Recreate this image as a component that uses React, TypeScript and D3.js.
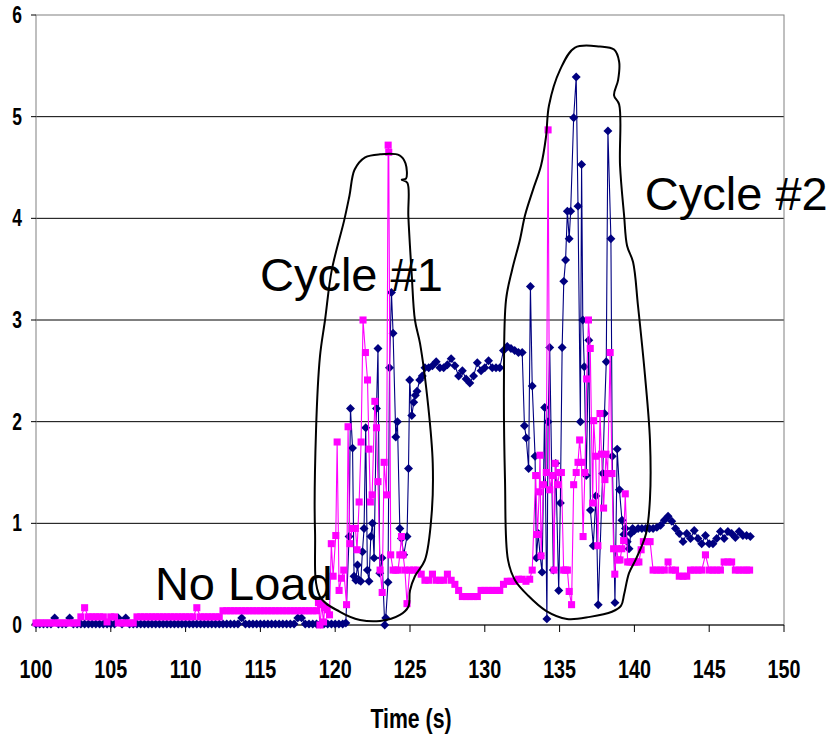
import React from 'react';
import * as d3 from 'd3';

// Sampled readings (time in seconds, value in the chart's units)
const navyTime = [
  100, 100.25, 100.5, 100.75, 101, 101.25, 101.5, 101.75, 102, 102.25, 102.5, 102.75,
  103, 103.25, 103.5, 103.75, 104, 104.25, 104.5, 104.75, 105, 105.25, 105.5, 105.75,
  106, 106.25, 106.5, 106.75, 107, 107.25, 107.5, 107.75, 108, 108.25, 108.5, 108.75,
  109, 109.25, 109.5, 109.75, 110, 110.25, 110.5, 110.75, 111, 111.25, 111.5, 111.75,
  112, 112.25, 112.5, 112.75, 113, 113.25, 113.5, 113.75, 114, 114.25, 114.5, 114.75,
  115, 115.25, 115.5, 115.75, 116, 116.25, 116.5, 116.75, 117, 117.25, 117.5, 117.75,
  118, 118.25, 118.5, 118.75, 119, 119.25, 119.5, 119.75, 120, 120.25, 120.5,
  120.71, 120.93, 121.02, 121.16, 121.26, 121.38, 121.49, 121.6, 121.71, 121.82, 121.93,
  122.04, 122.15, 122.26, 122.38, 122.49, 122.6, 122.76, 122.86, 122.98, 123.13, 123.31,
  123.38, 123.53, 123.63, 123.76, 123.87, 124.05, 124.16, 124.32, 124.43, 124.58, 124.8,
  124.9, 124.98, 125.12, 125.25, 125.36, 125.47, 125.65, 125.82,
  126, 126.25, 126.5, 126.75, 127, 127.25, 127.5, 127.75, 128, 128.25, 128.5, 128.75,
  129, 129.25, 129.5, 129.75, 130, 130.25, 130.5, 130.75, 131, 131.25, 131.5, 131.75,
  132, 132.25, 132.5,
  132.65, 132.77, 132.93, 133.05, 133.17, 133.36, 133.45, 133.57, 133.7, 133.83, 134,
  134.15, 134.23, 134.34, 134.58, 134.74, 134.94, 135.05, 135.17, 135.28, 135.4, 135.52,
  135.64, 135.74, 135.94, 136.11, 136.23, 136.39, 136.47, 136.55, 136.65, 136.78, 136.95,
  137.06, 137.25, 137.43, 137.58, 137.88, 138, 138.12, 138.23, 138.43, 138.52, 138.7,
  138.85, 139, 139.17, 139.29, 139.4, 139.52, 139.64, 139.76, 139.88,
  140, 140.25, 140.5, 140.75, 141, 141.25, 141.5, 141.75, 142, 142.25, 142.5, 142.75,
  143, 143.25, 143.5, 143.75, 144, 144.25, 144.5, 144.75, 145, 145.25, 145.5, 145.75,
  146, 146.25, 146.5, 146.75, 147, 147.25, 147.5, 147.75,
];
const navyValue = [
  0.01, 0.01, 0.01, 0.01, 0.01, 0.07, 0.01, 0.01, 0.01, 0.07, 0.01, 0.01,
  0.01, 0.01, 0.01, 0.01, 0.01, 0.01, 0.01, 0.01, 0.01, 0.01, 0.07, 0.01,
  0.07, 0.01, 0.01, 0.01, 0.01, 0.01, 0.01, 0.01, 0.01, 0.01, 0.01, 0.01,
  0.01, 0.01, 0.01, 0.01, 0.01, 0.01, 0.01, 0.01, 0.01, 0.01, 0.01, 0.01,
  0.01, 0.01, 0.01, 0.01, 0.01, 0.01, 0.01, 0.07, 0.01, 0.01, 0.01, 0.01,
  0.01, 0.01, 0.01, 0.01, 0.01, 0.01, 0.01, 0.01, 0.01, 0.01, 0.07, 0.07,
  0.01, 0.01, 0.01, 0.01, 0.01, 0.01, 0.01, 0.01, 0.01, 0.01, 0.01,
  0.02, 0.87, 2.13, 1.74, 0.48, 0.44, 0.59, 0.44, 0.43, 0.72, 0.95,
  1.94, 0.54, 0.43, 0.87, 1.0, 0.66, 2.13, 2.72, 0.51, 0.66, 0.0,
  0.07, 0.42, 2.53, 3.27, 2.87, 1.85, 2.0, 0.95, 0.85, 0.69, 0.87,
  1.54, 2.41, 2.06, 2.19, 2.26, 2.3, 2.41, 2.45,
  2.53, 2.53, 2.55, 2.59, 2.53, 2.53, 2.56, 2.62, 2.55, 2.45, 2.5, 2.42,
  2.38, 2.45, 2.58, 2.5, 2.53, 2.6, 2.53, 2.53, 2.53, 2.7, 2.74, 2.72,
  2.7, 2.68, 2.68,
  1.96, 1.84, 1.54, 3.33, 2.35, 1.66, 0.66, 0.9, 0.68, 0.52, 2.14,
  0.06, 2.0, 2.73, 0.54, 1.59, 0.34, 1.2, 2.73, 3.38, 3.59, 4.07,
  3.8, 4.07, 4.99, 5.39, 4.12, 2.0, 4.53, 3.0, 2.54, 1.47, 2.8,
  1.13, 0.78, 1.27, 0.2, 1.49, 2.08, 2.59, 4.86, 3.8, 1.66, 0.22,
  1.73, 1.33, 1.03, 0.89, 0.95, 0.82, 0.75, 0.9, 0.95,
  0.93, 0.95, 0.95, 0.95, 0.95, 0.95, 0.96, 0.98, 1.03, 1.07, 1.02, 0.95,
  0.9, 0.82, 0.9, 0.85, 0.93, 0.85, 0.8, 0.88, 0.8, 0.8, 0.85, 0.92,
  0.85, 0.92, 0.9, 0.86, 0.92, 0.88, 0.88, 0.87,
];

const magentaTime = [
  100, 100.25, 100.5, 100.75, 101, 101.25, 101.5, 101.75, 102, 102.25, 102.5, 102.75,
  103, 103.25, 103.5, 103.75, 104, 104.25, 104.5, 104.75, 105, 105.25, 105.5, 105.75,
  106, 106.25, 106.5, 106.75, 107, 107.25, 107.5, 107.75, 108, 108.25, 108.5, 108.75,
  109, 109.25, 109.5, 109.75, 110, 110.25, 110.5, 110.75, 111, 111.25, 111.5, 111.75,
  112, 112.25, 112.5, 112.75, 113, 113.25, 113.5, 113.75, 114, 114.25, 114.5, 114.75,
  115, 115.25, 115.5, 115.75, 116, 116.25, 116.5, 116.75, 117, 117.25, 117.5, 117.75,
  118, 118.25, 118.5, 118.75,
  118.88, 118.98, 119.1, 119.22, 119.3, 119.46, 119.62, 119.74, 119.86, 120.04, 120.13,
  120.26, 120.42, 120.57, 120.76, 120.86, 120.98, 121.13, 121.35, 121.46, 121.6, 121.73,
  121.86, 122.02, 122.16, 122.26, 122.35, 122.47, 122.65, 122.76, 122.86, 123, 123.14,
  123.27, 123.43, 123.54, 123.58, 123.71, 123.87, 124.05, 124.2, 124.32, 124.43, 124.54,
  124.66, 124.8, 124.98,
  125.25, 125.5, 125.75, 126, 126.25, 126.5, 126.75, 127, 127.25, 127.5, 127.75, 128,
  128.25, 128.5, 128.75, 129, 129.25, 129.5, 129.75, 130, 130.25, 130.5, 130.75, 131,
  131.25, 131.5, 131.75, 132, 132.25, 132.5, 132.75,
  133, 133.17, 133.4, 133.52, 133.64, 133.69, 133.76, 133.92, 134.11, 134.23, 134.34,
  134.51, 134.63, 134.7, 134.86, 135, 135.12, 135.27, 135.4, 135.52, 135.64, 135.8,
  135.94, 136.11, 136.23, 136.34, 136.46, 136.57, 136.69, 136.81, 136.93, 137.05, 137.21,
  137.28, 137.41, 137.56, 137.7, 137.8, 137.94, 138.03, 138.1, 138.21, 138.38, 138.5,
  138.61, 138.69, 138.81, 138.92, 139.04, 139.16, 139.28, 139.39, 139.55, 139.7, 139.85,
  140, 140.15, 140.3, 140.45, 140.6, 140.85, 141.05, 141.25,
  141.5, 141.75, 142, 142.25, 142.5, 142.75, 143, 143.25, 143.5, 143.75, 144, 144.25,
  144.5, 144.75, 145, 145.25, 145.5, 145.75, 146, 146.25, 146.5, 146.75, 147, 147.25,
  147.5, 147.7,
];
const magentaValue = [
  0.02, 0.02, 0.02, 0.02, 0.02, 0.02, 0.02, 0.02, 0.02, 0.02, 0.02, 0.02,
  0.08, 0.17, 0.08, 0.08, 0.08, 0.08, 0.08, 0.03, 0.08, 0.08, 0.02, 0.02,
  0.02, 0.02, 0.02, 0.08, 0.08, 0.08, 0.08, 0.08, 0.08, 0.08, 0.08, 0.08,
  0.08, 0.08, 0.08, 0.08, 0.08, 0.08, 0.08, 0.17, 0.08, 0.08, 0.08, 0.08,
  0.08, 0.08, 0.14, 0.14, 0.14, 0.14, 0.14, 0.14, 0.14, 0.14, 0.14, 0.14,
  0.14, 0.14, 0.14, 0.14, 0.14, 0.14, 0.14, 0.14, 0.14, 0.14, 0.14, 0.14,
  0.14, 0.14, 0.14, 0.14,
  0.22, 0.0, 0.2, 0.03, 0.17, 0.15, 0.1, 0.8, 0.48, 0.88, 1.8,
  0.34, 0.46, 0.54, 0.2, 1.95, 0.8, 0.95, 0.95, 0.74, 1.21, 1.8,
  3.0, 2.68, 2.41, 1.73, 1.21, 1.28, 2.2, 1.94, 1.41, 0.54, 0.32,
  1.6, 1.28, 4.72, 4.65, 0.69, 0.54, 0.54, 0.54, 0.69, 0.87, 0.69,
  0.54, 0.21, 0.54,
  0.54, 0.54, 0.5, 0.44, 0.44, 0.5, 0.44, 0.44, 0.44, 0.5, 0.44, 0.4,
  0.34, 0.28, 0.28, 0.28, 0.28, 0.28, 0.34, 0.34, 0.34, 0.34, 0.34, 0.34,
  0.4, 0.43, 0.43, 0.43, 0.45, 0.45, 0.43,
  0.45, 0.54, 1.47, 0.89, 1.31, 1.67, 0.68, 1.38, 1.5, 4.87, 1.33,
  1.47, 0.54, 1.59, 1.38, 1.5, 1.5, 0.54, 0.54, 0.54, 0.33, 0.2,
  1.38, 1.5, 1.6, 1.82, 1.6, 0.87, 1.5, 2.42, 3.0, 2.72, 1.2,
  2.01, 1.66, 0.78, 2.08, 1.68, 1.15, 1.43, 1.68, 1.49, 2.68, 1.49,
  0.75, 0.5, 0.75, 0.64, 0.64, 0.75, 0.83, 1.29, 0.62, 0.62, 0.62,
  0.62, 0.62, 0.62, 0.74, 0.82, 0.82, 0.82, 0.54,
  0.54, 0.54, 0.54, 0.62, 0.54, 0.54, 0.48, 0.48, 0.48, 0.54, 0.54, 0.54,
  0.54, 0.69, 0.54, 0.54, 0.54, 0.54, 0.62, 0.62, 0.62, 0.54, 0.54, 0.54,
  0.54, 0.54,
];

const xTicks = [100, 105, 110, 115, 120, 125, 130, 135, 140, 145, 150];
const yTicks = [0, 1, 2, 3, 4, 5, 6];
const xTitle = 'Time (s)';

// Hand-drawn outlines around the two load cycles, in (time, value) units
const cycle1Outline: [number, number][] = [
  [122.0, 4.6], [123.0, 4.63], [124.3, 4.62], [124.7, 4.54], [124.73, 4.39],
  [124.45, 4.38], [124.82, 4.35], [124.89, 4.02], [125.11, 3.46], [125.33, 3.0],
  [125.67, 2.77], [126.22, 2.15], [126.52, 1.59], [126.45, 1.1], [126.0, 0.64],
  [125.33, 0.48], [125.0, 0.34], [124.89, 0.18], [124.33, 0.1], [123.0, 0.04],
  [121.66, 0.05], [120.32, 0.13], [118.98, 0.28], [118.65, 0.93], [118.72, 1.92],
  [118.98, 2.64], [119.32, 3.0], [119.77, 3.49], [120.6, 3.98], [120.95, 4.22],
  [121.3, 4.48],
];
const cycle2Outline: [number, number][] = [
  [136.03, 5.68], [137.7, 5.69], [138.64, 5.66], [138.98, 5.54], [138.91, 5.36],
  [138.64, 5.21], [138.98, 5.12], [139.04, 4.52], [139.31, 4.03], [139.51, 3.73],
  [139.91, 3.57], [140.24, 3.14], [140.71, 2.45], [141.04, 1.82], [141.04, 1.24],
  [140.78, 0.9], [140.11, 0.65], [139.64, 0.51], [139.31, 0.3], [139.11, 0.19],
  [138.5, 0.13], [137.03, 0.08], [135.49, 0.06], [134.09, 0.14], [132.89, 0.29],
  [132.02, 0.44], [131.55, 0.64], [131.35, 1.43], [131.28, 2.41], [131.42, 3.2],
  [131.82, 3.49], [132.35, 3.79], [132.69, 4.03], [133.22, 4.28], [133.76, 4.52],
  [134.09, 4.8], [134.29, 5.11], [135.03, 5.46],
];

const notes = [
  { text: 'Cycle #1', t: 114.97, v: 3.29 },
  { text: 'Cycle #2', t: 140.7, v: 4.08 },
  { text: 'No Load', t: 107.95, v: 0.25 },
];

const W = 835;
const H = 739;
const plot = { left: 36, right: 784, top: 15, bottom: 625 };

const NAVY = '#000080';
const MAGENTA = '#FF00FF';
const tickFont = '"Liberation Sans", Arial, sans-serif';
// Condensed bold lettering for the axes
const NARROW = 0.76;

// Square rotated 45 degrees, as used by spreadsheet line markers
const diamond = {
  draw(ctx: any, size: number) {
    const r = Math.sqrt(size / 2);
    ctx.moveTo(0, -r);
    ctx.lineTo(r, 0);
    ctx.lineTo(0, r);
    ctx.lineTo(-r, 0);
    ctx.closePath();
  },
};

function NarrowText({ x, y, size, anchor, children }: any) {
  return (
    <text
      transform={`translate(${x},${y}) scale(${NARROW},1)`}
      textAnchor={anchor}
      fontFamily={tickFont}
      fontWeight="bold"
      fontSize={size}
      fill="#000"
    >
      {children}
    </text>
  );
}

export default function App() {
  const x = d3.scaleLinear().domain([100, 150]).range([plot.left, plot.right]);
  const y = d3.scaleLinear().domain([0, 6]).range([plot.bottom, plot.top]);

  const navy = navyTime.map((t, i) => [t, navyValue[i]] as [number, number]);
  const magenta = magentaTime.map((t, i) => [t, magentaValue[i]] as [number, number]);

  const line = d3
    .line<[number, number]>()
    .x((d) => x(d[0]))
    .y((d) => y(d[1]));

  const outline = d3
    .line<[number, number]>()
    .x((d) => x(d[0]))
    .y((d) => y(d[1]))
    .curve(d3.curveCatmullRomClosed.alpha(0.5));

  const diamondPath = d3.symbol().type(diamond as any).size(40)() as string;
  const squarePath = d3.symbol().type(d3.symbolSquare).size(50)() as string;

  return (
    <svg
      width={W}
      height={H}
      style={{ position: 'absolute', left: 0, top: 0, background: '#fff' }}
    >
      <rect x={0} y={0} width={W} height={H} fill="#fff" />

      {/* grid */}
      {yTicks
        .filter((v) => v > 0 && v < 6)
        .map((v) => (
          <line key={`g${v}`} x1={plot.left} x2={plot.right} y1={y(v)} y2={y(v)} stroke="#000" strokeWidth={1} />
        ))}
      <rect
        x={plot.left}
        y={plot.top}
        width={plot.right - plot.left}
        height={plot.bottom - plot.top}
        fill="none"
        stroke="#808080"
        strokeWidth={1}
      />

      {/* y axis */}
      {yTicks.map((v) => (
        <g key={`y${v}`}>
          <line x1={plot.left - 5} x2={plot.left} y1={y(v)} y2={y(v)} stroke="#000" strokeWidth={1} />
          <NarrowText x={22} y={y(v) + 8} size={23} anchor="end">
            {v}
          </NarrowText>
        </g>
      ))}

      {/* x axis */}
      <line x1={plot.left} x2={plot.right} y1={plot.bottom} y2={plot.bottom} stroke="#000" strokeWidth={1.2} />
      {xTicks.map((t) => (
        <g key={`x${t}`}>
          <line x1={x(t)} x2={x(t)} y1={plot.bottom} y2={plot.bottom + 7} stroke="#000" strokeWidth={1} />
          <NarrowText x={x(t)} y={678} size={26} anchor="middle">
            {t}
          </NarrowText>
        </g>
      ))}
      <NarrowText x={411} y={728} size={28} anchor="middle">
        {xTitle}
      </NarrowText>

      {/* series */}
      <path d={line(navy) as string} fill="none" stroke={NAVY} strokeWidth={1.1} />
      {navy.map((d, i) => (
        <path key={`n${i}`} d={diamondPath} transform={`translate(${x(d[0])},${y(d[1])})`} fill={NAVY} />
      ))}
      <path d={line(magenta) as string} fill="none" stroke={MAGENTA} strokeWidth={1.1} />
      {magenta.map((d, i) => (
        <path key={`m${i}`} d={squarePath} transform={`translate(${x(d[0])},${y(d[1])})`} fill={MAGENTA} />
      ))}

      {/* cycle outlines and notes */}
      <path d={outline(cycle1Outline) as string} fill="none" stroke="#000" strokeWidth={2} />
      <path d={outline(cycle2Outline) as string} fill="none" stroke="#000" strokeWidth={2} />
      {notes.map((n) => (
        <text
          key={n.text}
          x={x(n.t)}
          y={y(n.v)}
          fontFamily='"Liberation Sans", Arial, sans-serif'
          fontSize={47}
          fill="#000"
        >
          {n.text}
        </text>
      ))}
    </svg>
  );
}
